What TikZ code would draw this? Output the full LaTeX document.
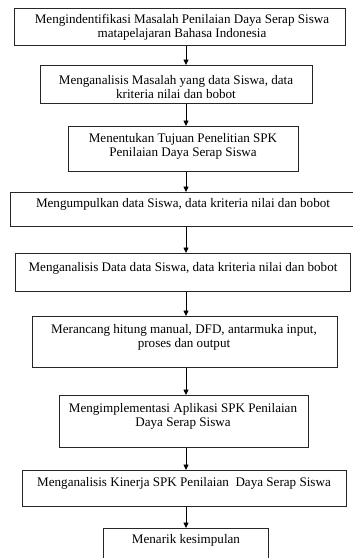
\documentclass[tikz,border=0pt]{standalone}
\usepackage{fontspec}
\setmainfont{Liberation Serif}
\usetikzlibrary{arrows.meta}
\begin{document}
\begin{tikzpicture}[x=1pt,y=-1pt,
  stepbox/.style={draw=black!85,line width=0.9pt,inner sep=0pt,anchor=north west},
  steptext/.style={inner sep=0pt,align=center,font=\fontsize{13.1}{14}\selectfont},
  flow/.style={draw=black,line width=0.8pt,-{Triangle[width=5pt,length=5.5pt]}}]
\useasboundingbox (0,0) rectangle (353,558);
\coordinate (spine) at (186,0);
% boxes
\node[stepbox,minimum width=331pt,minimum height=37pt] (b1) at (14,8) {};
\node[stepbox,minimum width=272pt,minimum height=38pt] (b2) at (40,65) {};
\node[stepbox,minimum width=230pt,minimum height=45pt] (b3) at (68,126) {};
\node[stepbox,minimum width=343pt,minimum height=34pt] (b4) at (9.5,192) {};
\node[stepbox,minimum width=335pt,minimum height=38pt] (b5) at (15,253) {};
\node[stepbox,minimum width=305pt,minimum height=51pt] (b6) at (32,316) {};
\node[stepbox,minimum width=249pt,minimum height=52pt] (b7) at (59,395) {};
\node[stepbox,minimum width=324pt,minimum height=36pt] (b8) at (22,470) {};
\node[stepbox,minimum width=165pt,minimum height=45pt] (b9) at (103,528) {};
% texts
\node[steptext] (t1) at (182,27) {Mengindentifikasi Masalah Penilaian Daya Serap Siswa\\matapelajaran Bahasa Indonesia};
\node[steptext] (t2) at (176,87) {Menganalisis Masalah yang data Siswa, data\\kriteria nilai dan bobot};
\node[steptext] (t3) at (183,146.5) {Menentukan Tujuan Penelitian SPK\\Penilaian Daya Serap Siswa};
\node[steptext] (t4) at (183,204) {Mengumpulkan data Siswa, data kriteria nilai dan bobot};
\node[steptext] (t5) at (183,268) {Menganalisis Data data Siswa, data kriteria nilai dan bobot};
\node[steptext] (t6) at (184,337) {Merancang hitung manual, DFD, antarmuka input,\\proses dan output};
\node[steptext] (t7) at (183,416) {Mengimplementasi Aplikasi SPK Penilaian\\Daya Serap Siswa};
\node[steptext] (t8) at (184,483) {Menganalisis Kinerja SPK Penilaian\ \ Daya Serap Siswa};
\node[steptext] (t9) at (186,540) {Menarik kesimpulan};
% connectors
\draw[flow] (b1.south -| spine) -- (b2.north -| spine);
\draw[flow] (b2.south -| spine) -- (b3.north -| spine);
\draw[flow] (b3.south -| spine) -- (b4.north -| spine);
\draw[flow] (b4.south -| spine) -- (b5.north -| spine);
\draw[flow] (b5.south -| spine) -- (b6.north -| spine);
\draw[flow] (b6.south -| spine) -- (b7.north -| spine);
\draw[flow] (b7.south -| spine) -- (b8.north -| spine);
\draw[flow] (b8.south -| spine) -- (b9.north -| spine);
\end{tikzpicture}
\end{document}
